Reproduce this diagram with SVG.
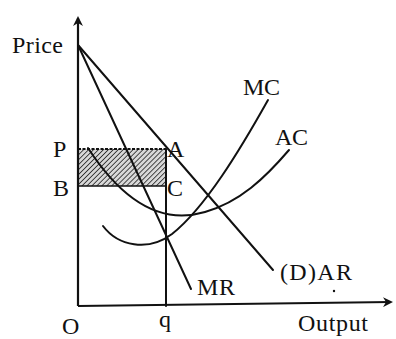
<svg xmlns="http://www.w3.org/2000/svg" width="396" height="339" viewBox="0 0 396 339">
<style>
.ln{fill:none;stroke:#111;stroke-width:2;stroke-linecap:round}
.ax{fill:none;stroke:#111;stroke-width:2.2}
.t{font-family:"Liberation Serif","Times New Roman",serif;font-size:24px;fill:#111}
</style>
<defs>
<pattern id="hatch" patternUnits="userSpaceOnUse" width="3.5" height="3.5" patternTransform="rotate(45)">
<rect width="3.5" height="3.5" fill="#d8d8d8"/>
<line x1="0" y1="0" x2="0" y2="3.5" stroke="#222" stroke-width="1.6"/>
</pattern>
<marker id="arr" markerWidth="10" markerHeight="10" refX="8" refY="5" orient="auto" markerUnits="userSpaceOnUse">
<path d="M0,0 L10,5 L0,10 L3,5 Z" fill="#111"/>
</marker>
</defs>
<rect width="396" height="339" fill="#fff"/>
<g id="shaded">
<rect x="78" y="149" width="88" height="37" fill="url(#hatch)"/>
<line x1="78" y1="149" x2="166" y2="149" stroke="#111" stroke-width="2" stroke-dasharray="3,1.5"/>
<line x1="78" y1="186" x2="166" y2="186" stroke="#111" stroke-width="1.6"/>
</g>
<g id="connectors">
<line id="yaxis" class="ax" x1="78" y1="306" x2="78" y2="18" marker-end="url(#arr)"/>
<line id="xaxis" class="ax" x1="78" y1="306" x2="391" y2="302" marker-end="url(#arr)"/>
<line id="qline" class="ln" x1="166" y1="149" x2="166" y2="306"/>
</g>
<g id="AR"><line class="ln" x1="78" y1="45" x2="273" y2="270"/></g>
<g id="MR"><line class="ln" x1="78" y1="45" x2="191" y2="289"/></g>
<g id="AC"><path class="ln" d="M88 148 C125 205,165 224,205 212 C240 202,265 178,289 150"/></g>
<g id="MC"><path class="ln" d="M103 226 C118 246,148 252,172 234 C205 208,240 150,268 100"/></g>
<g id="labels">
<text class="t" x="12" y="53" textLength="51">Price</text>
<text class="t" x="53" y="157">P</text>
<text class="t" x="53" y="196">B</text>
<text class="t" x="167" y="157">A</text>
<text class="t" x="167" y="196">C</text>
<text class="t" x="62" y="334">O</text>
<text class="t" x="159" y="327">q</text>
<text class="t" x="243" y="95" textLength="37">MC</text>
<text class="t" x="275" y="145" textLength="33">AC</text>
<text class="t" x="197" y="295" textLength="38">MR</text>
<text class="t" x="280" y="280" textLength="72">(D)AR</text>
<text class="t" x="298" y="331" textLength="70">Output</text>
<circle cx="334" cy="291" r="1.2" fill="#111"/>
</g>
</svg>
